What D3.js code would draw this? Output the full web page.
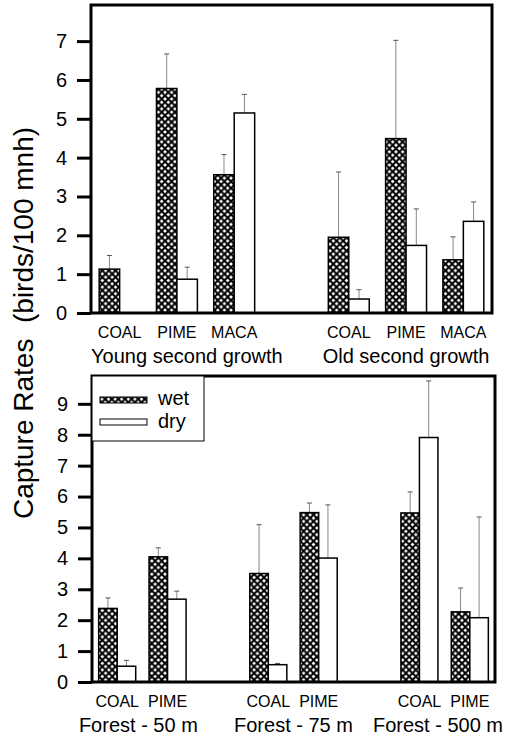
<!DOCTYPE html>
<html lang="en">
<head>
    <meta charset="UTF-8">
    <title>Capture Rates</title>
    <style>
        body {
            margin: 0;
            background: white;
        }
        text {
            font-family: "Liberation Sans", Arial, sans-serif;
            fill: black;
        }
    </style>
    <script src="https://d3js.org/d3.v7.min.js"></script>
</head>
<body>
    <script>
        // data (error = upper bar length)
        const seriesNames = ["wet", "dry"];

        const topGroups = ["Young second growth", "Old second growth"];
        const topSpecies = ["COAL", "PIME", "MACA"];
        const topWet = [1.13, 5.78, 3.56, 1.95, 4.49, 1.37];
        const topWetErr = [0.35, 0.89, 0.52, 1.68, 2.53, 0.59];
        const topDry = [0, 0.87, 5.15, 0.36, 1.74, 2.36];
        const topDryErr = [0, 0.31, 0.48, 0.24, 0.94, 0.50];
        const topTicks = [0, 1, 2, 3, 4, 5, 6, 7];

        const botGroups = ["Forest - 50 m", "Forest - 75 m", "Forest - 500 m"];
        const botSpecies = ["COAL", "PIME"];
        const botWet = [2.38, 4.05, 3.51, 5.48, 5.47, 2.27];
        const botWetErr = [0.34, 0.29, 1.58, 0.31, 0.68, 0.77];
        const botDry = [0.51, 2.68, 0.56, 4.01, 7.91, 2.08];
        const botDryErr = [0.19, 0.26, 0.04, 1.72, 1.83, 3.26];
        const botTicks = [0, 1, 2, 3, 4, 5, 6, 7, 8, 9];

        const SVG_WIDTH = 518;
        const SVG_HEIGHT = 740;

        const svg = d3.select("body").append("svg")
            .attr("width", SVG_WIDTH)
            .attr("height", SVG_HEIGHT);

        // crosshatch fill for the wet bars
        const pat = svg.append("defs").append("pattern")
            .attr("id", "hatch")
            .attr("patternUnits", "userSpaceOnUse")
            .attr("width", 6.6)
            .attr("height", 6.6);
        pat.append("rect").attr("width", 6.6).attr("height", 6.6).attr("fill", "black");
        const diamond = (cx, cy, r) => `M${cx},${cy - r}L${cx + r},${cy}L${cx},${cy + r}L${cx - r},${cy}Z`;
        [[0, 0], [6.6, 0], [0, 6.6], [6.6, 6.6], [3.3, 3.3]].forEach(([cx, cy]) => {
            pat.append("path").attr("d", diamond(cx, cy, 1.9)).attr("fill", "white");
        });

        function drawPanel(cfg) {
            const { groups, species, wet, wetErr, dry, dryErr, ticks, yMax,
                    left, right, top, bottom, pad, groupDx } = cfg;

            // slots: one per species per group, with an empty slot between groups
            const slots = [];
            const rows = [];
            groups.forEach((g, gi) => {
                if (gi > 0) slots.push("gap" + gi);
                species.forEach((s, si) => {
                    const key = g + "|" + s;
                    slots.push(key);
                    const i = gi * species.length + si;
                    rows.push({ key, group: g, species: s, wet: wet[i], wetErr: wetErr[i], dry: dry[i], dryErr: dryErr[i] });
                });
            });

            const x = d3.scaleBand().domain(slots).range([left, right]).padding(0);
            const xs = d3.scaleBand().domain(seriesNames).range([0, x.bandwidth()])
                .paddingInner(0).paddingOuter(pad);
            const y = d3.scaleLinear().domain([0, yMax]).range([bottom, top]);

            const g = svg.append("g");

            // ticks on the left, pointing out
            const axis = g.append("g")
                .attr("transform", `translate(${left},0)`)
                .call(d3.axisLeft(y).tickValues(ticks).tickSize(14).tickPadding(10).tickFormat(d3.format("d")));
            axis.select(".domain").remove();
            axis.selectAll("line").attr("stroke", "black").attr("stroke-width", 3);
            axis.selectAll("text")
                .attr("font-size", 20)
                .attr("font-family", "Liberation Sans, Arial, sans-serif");

            // bars
            const bars = rows.flatMap(r => seriesNames.map(s => ({
                key: r.key, series: s, value: r[s], err: r[s + "Err"]
            }))).filter(d => d.value > 0);

            // upper error bars (drawn first so the bar outline sits on top)
            const errs = g.selectAll("g.err")
                .data(bars.filter(d => d.err > 0))
                .join("g")
                .attr("class", "err")
                .attr("transform", d => `translate(${x(d.key) + xs(d.series) + xs.bandwidth() / 2},0)`);
            errs.append("line")
                .attr("y1", d => y(d.value))
                .attr("y2", d => y(d.value + d.err))
                .attr("stroke", "#888")
                .attr("stroke-width", 1);
            errs.append("line")
                .attr("x1", -2.5).attr("x2", 2.5)
                .attr("y1", d => y(d.value + d.err))
                .attr("y2", d => y(d.value + d.err))
                .attr("stroke", "#555")
                .attr("stroke-width", 1);

            g.selectAll("rect.bar")
                .data(bars)
                .join("rect")
                .attr("class", "bar")
                .attr("x", d => x(d.key) + xs(d.series))
                .attr("y", d => y(d.value))
                .attr("width", xs.bandwidth())
                .attr("height", d => y(0) - y(d.value))
                .attr("fill", d => d.series === "wet" ? "url(#hatch)" : "white")
                .attr("stroke", "black")
                .attr("stroke-width", 1.5);

            // frame
            g.append("rect")
                .attr("x", left).attr("y", top)
                .attr("width", right - left).attr("height", bottom - top)
                .attr("fill", "none")
                .attr("stroke", "black")
                .attr("stroke-width", 3);

            // species labels under each pair
            g.selectAll("text.sp")
                .data(rows)
                .join("text")
                .attr("class", "sp")
                .attr("x", d => x(d.key) + x.bandwidth() / 2)
                .attr("y", bottom + 25)
                .attr("text-anchor", "middle")
                .attr("font-size", 16)
                .text(d => d.species);

            // group labels
            g.selectAll("text.grp")
                .data(groups)
                .join("text")
                .attr("class", "grp")
                .attr("y", bottom + 50)
                .attr("text-anchor", "middle")
                .attr("font-size", 20)
                .text(d => d)
                .attr("x", function (d, i) {
                    const cs = species.map(s => x(d + "|" + s) + x.bandwidth() / 2);
                    let cx = d3.mean(cs) + (groupDx[i] || 0);
                    const w = this.getComputedTextLength();
                    if (cx + w / 2 > right + 8) cx = right + 8 - w / 2;
                    return cx;
                });

            return g;
        }

        drawPanel({
            groups: topGroups, species: topSpecies,
            wet: topWet, wetErr: topWetErr, dry: topDry, dryErr: topDryErr,
            ticks: topTicks, yMax: 7.93,
            left: 91, right: 492, top: 5, bottom: 313, pad: 0.4, groupDx: [10, 0]
        });

        const bot = drawPanel({
            groups: botGroups, species: botSpecies,
            wet: botWet, wetErr: botWetErr, dry: botDry, dryErr: botDryErr,
            ticks: botTicks, yMax: 9.9,
            left: 92, right: 495, top: 376, bottom: 682, pad: 0.36, groupDx: [-4, 0, 0]
        });

        // legend in the top-left corner of the lower panel
        const legend = bot.append("g").attr("transform", "translate(92,376)");
        legend.append("rect")
            .attr("width", 112).attr("height", 65)
            .attr("fill", "white")
            .attr("stroke", "black")
            .attr("stroke-width", 1);
        seriesNames.forEach((s, i) => {
            legend.append("rect")
                .attr("x", 8).attr("y", 21 + i * 22)
                .attr("width", 47).attr("height", 6)
                .attr("fill", s === "wet" ? "url(#hatch)" : "white")
                .attr("stroke", "black")
                .attr("stroke-width", 1);
            legend.append("text")
                .attr("x", 66).attr("y", 29 + i * 23)
                .attr("font-size", 20)
                .text(s);
        });

        // shared y-axis title
        svg.append("text")
            .attr("transform", "translate(33,323) rotate(-90)")
            .attr("text-anchor", "middle")
            .attr("font-size", 28)
            .style("white-space", "pre")
            .text("Capture Rates  (birds/100 mnh)");
    </script>
</body>
</html>
